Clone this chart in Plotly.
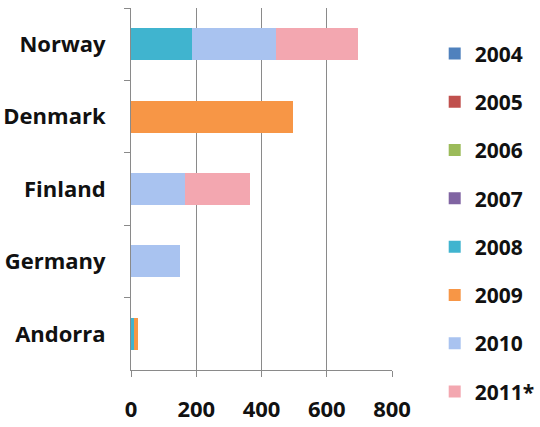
import plotly.graph_objects as go

countries = ["Norway", "Denmark", "Finland", "Germany", "Andorra"]
years = ["2004", "2005", "2006", "2007", "2008", "2009", "2010", "2011*"]
values = {
    "2004": [0, 0, 0, 0, 0],
    "2005": [0, 0, 0, 0, 0],
    "2006": [0, 0, 0, 0, 0],
    "2007": [0, 0, 0, 0, 0],
    "2008": [188, 0, 0, 0, 10],
    "2009": [0, 497, 0, 0, 10],
    "2010": [257, 0, 165, 150, 0],
    "2011*": [250, 0, 201, 0, 0],
}
colors = {
    "2004": "#4F81BD",
    "2005": "#C0504D",
    "2006": "#9BBB59",
    "2007": "#8064A2",
    "2008": "#40B4CF",
    "2009": "#F79646",
    "2010": "#A9C3F0",
    "2011*": "#F3A7B0",
}

font = dict(family="Open Sans", size=22, color="#111111")

fig = go.Figure()
for yr in years:
    fig.add_trace(go.Bar(
        y=countries, x=values[yr], name=yr, orientation="h",
        marker=dict(color=colors[yr], line=dict(width=0)),
        width=0.44, legendgroup=yr,
    ))

fig.update_layout(
    width=540, height=427,
    margin=dict(l=131, r=148, t=8, b=57),
    barmode="stack",
    plot_bgcolor="white", paper_bgcolor="white",
    font=font,
    showlegend=True,
    legend=dict(
        xref="container", x=0.805, xanchor="left",
        yref="container", y=0.922, yanchor="top",
        traceorder="grouped", tracegroupgap=18, maxheight=427,
        font=dict(family="Open Sans", size=21, color="#111111", weight="bold"),
        itemwidth=30, bgcolor="rgba(0,0,0,0)",
    ),
    xaxis=dict(
        range=[0, 800], dtick=200, showgrid=True, gridcolor="#8a8a8a", gridwidth=1,
        showline=True, linecolor="#8a8a8a", ticks="outside", ticklen=6, tickcolor="#8a8a8a",
        tickfont=dict(family="Open Sans", size=22, color="#111111", weight="bold"),
        ticklabelstandoff=14, zeroline=False, automargin=False,
    ),
    yaxis=dict(
        categoryorder="array", categoryarray=countries, autorange="reversed",
        showline=True, linecolor="#8a8a8a", ticks="outside", ticklen=6, tickcolor="#8a8a8a",
        tickson="boundaries", showgrid=False, automargin=False,
        tickfont=dict(family="Open Sans", size=22, color="#111111", weight="bold"),
        ticklabelstandoff=20,
    ),
)

fig.write_html("out.html")
